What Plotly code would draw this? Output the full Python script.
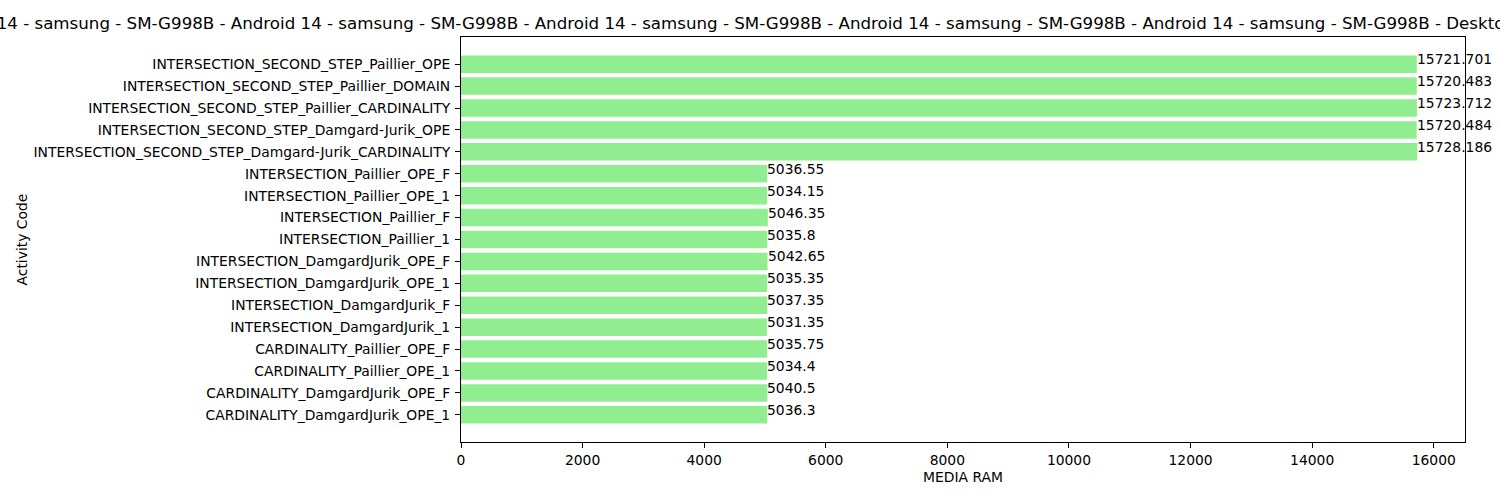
import plotly.graph_objects as go

# Categories listed bottom-to-top (matplotlib barh order)
activity_codes = [
    "CARDINALITY_DamgardJurik_OPE_1",
    "CARDINALITY_DamgardJurik_OPE_F",
    "CARDINALITY_Paillier_OPE_1",
    "CARDINALITY_Paillier_OPE_F",
    "INTERSECTION_DamgardJurik_1",
    "INTERSECTION_DamgardJurik_F",
    "INTERSECTION_DamgardJurik_OPE_1",
    "INTERSECTION_DamgardJurik_OPE_F",
    "INTERSECTION_Paillier_1",
    "INTERSECTION_Paillier_F",
    "INTERSECTION_Paillier_OPE_1",
    "INTERSECTION_Paillier_OPE_F",
    "INTERSECTION_SECOND_STEP_Damgard-Jurik_CARDINALITY",
    "INTERSECTION_SECOND_STEP_Damgard-Jurik_OPE",
    "INTERSECTION_SECOND_STEP_Paillier_CARDINALITY",
    "INTERSECTION_SECOND_STEP_Paillier_DOMAIN",
    "INTERSECTION_SECOND_STEP_Paillier_OPE",
]
media_ram = [
    5036.3, 5040.5, 5034.4, 5035.75, 5031.35, 5037.35, 5035.35, 5042.65,
    5035.8, 5046.35, 5034.15, 5036.55,
    15728.186, 15720.484, 15723.712, 15720.483, 15721.701,
]
value_labels = ["5036.3", "5040.5", "5034.4", "5035.75", "5031.35", "5037.35",
                "5035.35", "5042.65", "5035.8", "5046.35", "5034.15", "5036.55",
                "15728.186", "15720.484", "15723.712", "15720.483", "15721.701"]
x_ticks = [0, 2000, 4000, 6000, 8000, 10000, 12000, 14000, 16000]
x_tick_labels = ["0", "2000", "4000", "6000", "8000", "10000", "12000", "14000", "16000"]

title_text = "Android 14 - samsung - SM-G998B - " * 5 + "Desktop"
x_title = "MEDIA RAM"
y_title = "Activity Code"

FONT = "DejaVu Sans"
L, R, T, B = 461, 35, 37, 58
PW, PH = 1500 - L - R, 500 - T - B

fig = go.Figure()
fig.add_trace(go.Bar(
    x=media_ram, y=activity_codes, orientation="h",
    marker=dict(color="#90EE90", line=dict(width=0)),
    hoverinfo="x+y",
))

annotations = []
for code, v, lab in zip(activity_codes, media_ram, value_labels):
    annotations.append(dict(
        x=v, y=code, xref="x", yref="y", text=lab, showarrow=False,
        xanchor="left", yanchor="middle", xshift=-2, yshift=5,
        font=dict(family=FONT, size=13.89, color="black"),
    ))
# Title (wider than the figure, clipped at both sides like the reference)
annotations.append(dict(
    x=(-75 - L) / PW, y=1, xref="paper", yref="paper", text=title_text,
    showarrow=False, xanchor="left", yanchor="bottom", yshift=2,
    font=dict(family=FONT, size=16.67, color="black"),
))
# Axis titles
annotations.append(dict(
    x=0.5, y=(PH - (477 - T)) / PH, xref="paper", yref="paper", text=x_title,
    showarrow=False, xanchor="center", yanchor="middle",
    font=dict(family=FONT, size=13.89, color="black"),
))
annotations.append(dict(
    x=(21 - L) / PW, y=0.5, xref="paper", yref="paper", text=y_title,
    showarrow=False, xanchor="center", yanchor="middle", textangle=-90,
    font=dict(family=FONT, size=13.89, color="black"),
))

xmax = max(media_ram) * 1.05
fig.update_layout(
    width=1500, height=500,
    margin=dict(l=L, r=R, t=T, b=B),
    paper_bgcolor="white", plot_bgcolor="white",
    bargap=0.2, showlegend=False,
    font=dict(family=FONT, size=13.89, color="black"),
    annotations=annotations,
    xaxis=dict(
        range=[0, xmax], tickvals=x_ticks, ticktext=x_tick_labels,
        ticks="outside", ticklen=5,
        tickwidth=1.1, tickcolor="black", showgrid=False, zeroline=False,
        showline=True, linecolor="black", linewidth=1.1, mirror=True,
        tickfont=dict(family=FONT, size=13.89),
    ),
    yaxis=dict(
        type="category", categoryorder="array", categoryarray=activity_codes,
        range=[-1.24, 17.24], ticks="outside", ticklen=5, tickwidth=1.1,
        tickcolor="black", showgrid=False, zeroline=False,
        showline=True, linecolor="black", linewidth=1.1, mirror=True,
        tickfont=dict(family=FONT, size=13.89), ticklabelstandoff=2,
    ),
)

fig.write_html("out.html")
